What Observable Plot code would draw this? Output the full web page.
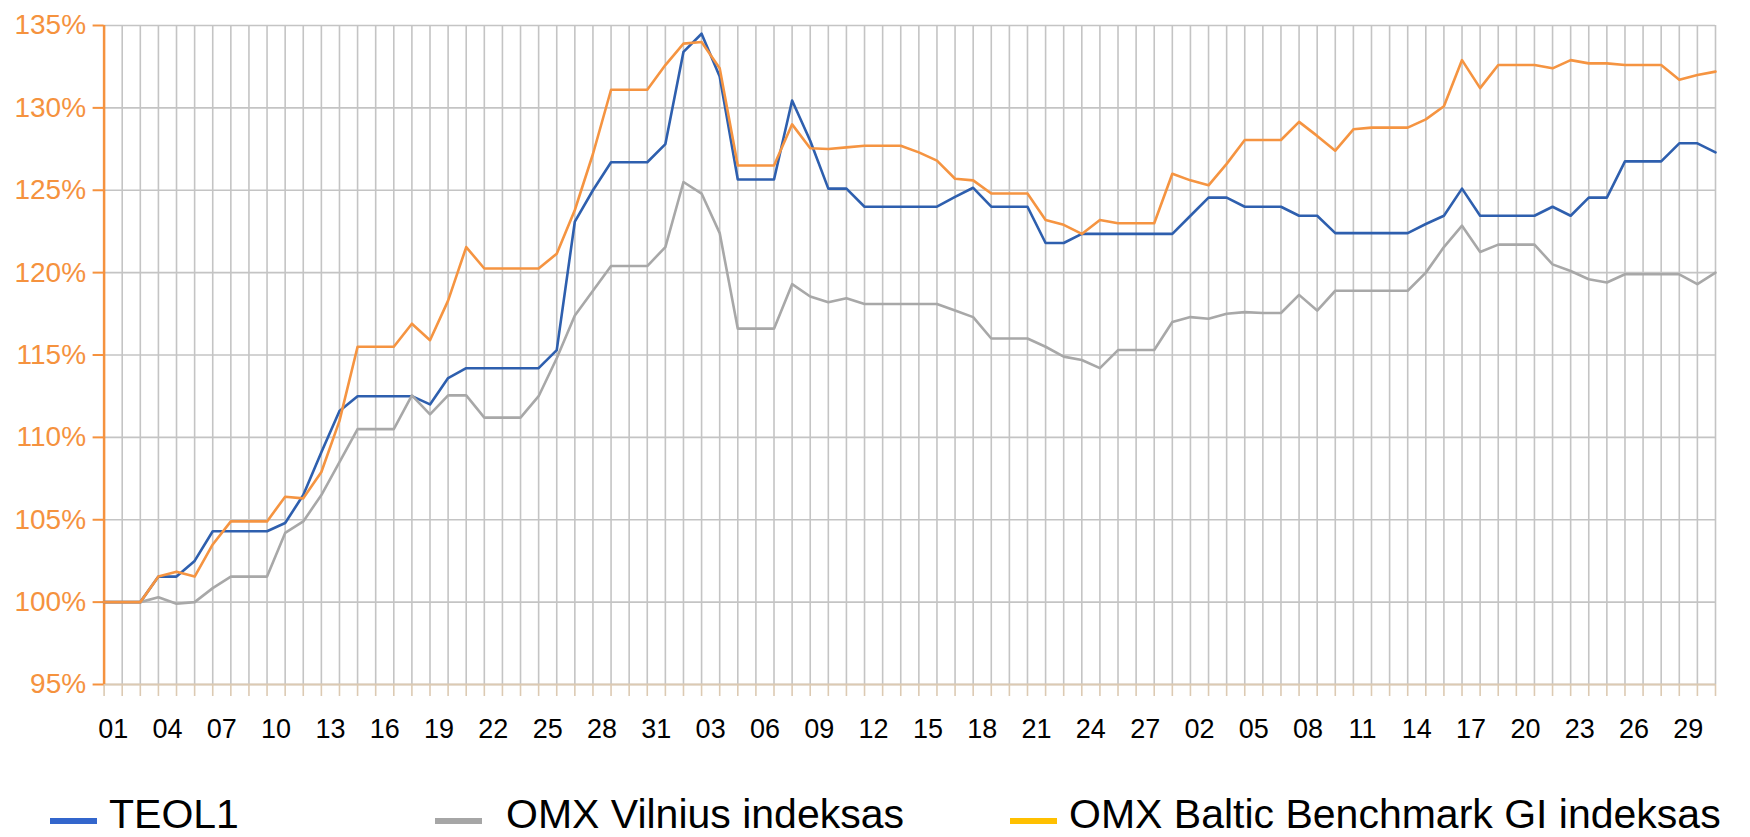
<!DOCTYPE html>
<html><head><meta charset="utf-8">
<script src="https://cdn.jsdelivr.net/npm/d3@7"></script>
<script src="https://cdn.jsdelivr.net/npm/@observablehq/plot@0.6"></script>
<style>
body{margin:0;background:#fff;}
#wrap{position:relative;width:1750px;height:837px;overflow:hidden;font-family:"Liberation Sans",Arial,sans-serif;background:#fff;}
#chart{position:absolute;left:0;top:0;}
.lg{position:absolute;font-size:41px;line-height:34px;top:797px;color:#000;white-space:nowrap;}
.sw{position:absolute;top:818px;height:6px;width:47px;}
</style></head><body>
<div id="wrap"><div id="chart"></div><div id="legend"></div></div>
<script>
const tickLabels = ["01","04","07","10","13","16","19","22","25","28","31",
  "03","06","09","12","15","18","21","24","27",
  "02","05","08","11","14","17","20","23","26","29"];

const teol1 = [100,100,100,101.55,101.55,102.5,104.3,104.3,104.3,104.3,
  104.8,106.5,109.1,111.6,112.5,112.5,112.5,112.5,112.0,113.6,
  114.2,114.2,114.2,114.2,114.2,115.3,123.1,125.0,126.7,126.7,
  126.7,127.8,133.4,134.5,131.9,125.65,125.65,125.65,130.45,128.0,
  125.1,125.1,124.0,124.0,124.0,124.0,124.0,124.6,125.15,124.0,
  124.0,124.0,121.8,121.8,122.35,122.35,122.35,122.35,122.35,122.35,
  123.45,124.55,124.55,124.0,124.0,124.0,123.45,123.45,122.4,122.4,
  122.4,122.4,122.4,122.95,123.45,125.1,123.45,123.45,123.45,123.45,
  124.0,123.45,124.55,124.55,126.75,126.75,126.75,127.85,127.85,127.3];

const omxVilnius = [100,100,100,100.3,99.9,100.0,100.85,101.55,101.55,101.55,
  104.2,104.9,106.5,108.5,110.5,110.5,110.5,112.55,111.4,112.55,
  112.55,111.2,111.2,111.2,112.5,114.8,117.4,118.9,120.4,120.4,
  120.4,121.55,125.5,124.8,122.4,116.6,116.6,116.6,119.3,118.55,
  118.2,118.45,118.1,118.1,118.1,118.1,118.1,117.7,117.3,116.0,
  116.0,116.0,115.5,114.9,114.7,114.2,115.3,115.3,115.3,117.0,
  117.3,117.2,117.5,117.6,117.55,117.55,118.65,117.7,118.9,118.9,
  118.9,118.9,118.9,120.0,121.55,122.85,121.25,121.7,121.7,121.7,
  120.5,120.1,119.6,119.4,119.9,119.9,119.9,119.9,119.3,120.0];

const omxBaltic = [100,100,100,101.55,101.85,101.55,103.5,104.9,104.9,104.9,
  106.4,106.3,107.9,111.0,115.5,115.5,115.5,116.9,115.9,118.3,
  121.55,120.25,120.25,120.25,120.25,121.15,123.8,127.2,131.1,131.1,
  131.1,132.6,133.9,134.0,132.4,126.5,126.5,126.5,129.0,127.55,
  127.5,127.6,127.7,127.7,127.7,127.3,126.8,125.7,125.6,124.8,
  124.8,124.8,123.2,122.9,122.35,123.2,123.0,123.0,123.0,126.0,
  125.6,125.3,126.6,128.05,128.05,128.05,129.15,128.3,127.4,128.7,
  128.8,128.8,128.8,129.3,130.1,132.9,131.2,132.6,132.6,132.6,
  132.4,132.9,132.7,132.7,132.6,132.6,132.6,131.7,132.0,132.2];

const seriesNames = ["TEOL1","OMX Vilnius indeksas","OMX Baltic Benchmark GI indeksas"];
const lineColors = ["#2e5fae","#a8a8a8","#f59441"];
const legendColors = ["#3366cc","#a6a6a6","#ffc000"];
const yTicks = [95,100,105,110,115,120,125,130,135];

const seriesValues = [teol1, omxVilnius, omxBaltic];
const days = d3.range(teol1.length);
const rows = [];
seriesNames.forEach((name, s) => seriesValues[s].forEach((v, i) => rows.push({series: name, i, v})));

const chart = Plot.plot({
  width: 1750, height: 770,
  marginLeft: 103.6, marginRight: 35, marginTop: 25, marginBottom: 86,
  x: {domain: [0, days.length - 1]},
  y: {domain: [95, 135]},
  color: {domain: seriesNames, range: lineColors},
  style: {fontFamily: "'Liberation Sans', Arial, sans-serif", background: "transparent", overflow: "visible"},
  marks: [
    Plot.gridX(days, {stroke: "#c4c4c4", strokeOpacity: 1, strokeWidth: 1.6}),
    Plot.gridY(yTicks, {stroke: "#c4c4c4", strokeOpacity: 1, strokeWidth: 1.6}),
    Plot.ruleY([95], {stroke: "#dccab3", strokeWidth: 2}),
    Plot.axisX(days, {tickSize: 12, tickFormat: () => "", color: "#dccab3", strokeWidth: 1.6, label: null}),
    Plot.axisX(tickLabels.map((_, k) => 3 * k + 0.5), {
      tickSize: 0, tickPadding: 34, fontSize: 27, color: "#000", label: null,
      tickFormat: d => tickLabels[Math.round((d - 0.5) / 3)]
    }),
    Plot.axisY(yTicks, {tickSize: 11, tickPadding: 7, fontSize: 28, color: "#f5923e", strokeWidth: 2,
      tickFormat: d => d + "%", label: null}),
    Plot.ruleX([0], {stroke: "#f5923e", strokeWidth: 2.5}),
    Plot.line(rows, {x: "i", y: "v", z: "series", stroke: "series", strokeWidth: 2.6})
  ]
});
document.getElementById("chart").appendChild(chart);

const legendPos = [{sw: 50, tx: 109}, {sw: 435, tx: 506}, {sw: 1010, tx: 1069}];
const lg = document.getElementById("legend");
seriesNames.forEach((name, s) => {
  const sw = document.createElement("div");
  sw.className = "sw"; sw.style.left = legendPos[s].sw + "px"; sw.style.background = legendColors[s];
  lg.appendChild(sw);
  const t = document.createElement("div");
  t.className = "lg"; t.style.left = legendPos[s].tx + "px"; t.textContent = name;
  lg.appendChild(t);
});
</script>
</body></html>
